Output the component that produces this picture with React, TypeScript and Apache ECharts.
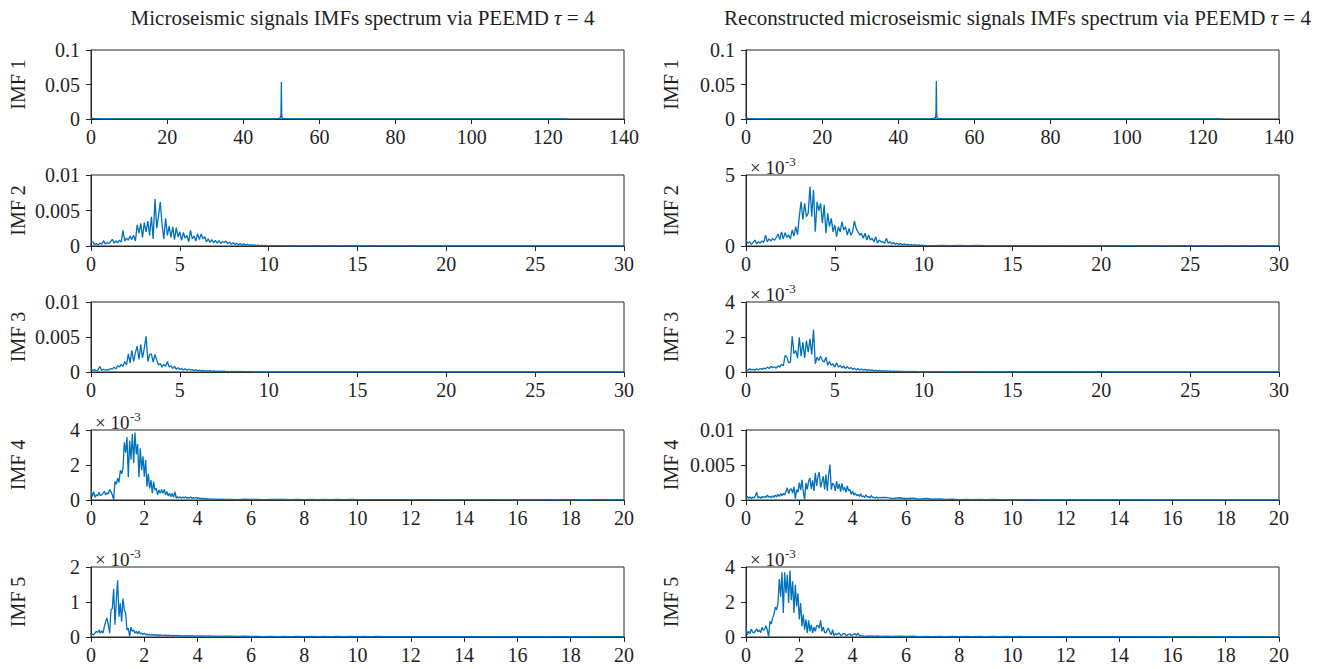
import React, { useEffect, useRef } from "react";
import * as echarts from "echarts";

// Amplitudes are stored in micro-units (1e-6) and scaled when the series are built.
const UNIT = 1e-6;

// IMF 1: near-flat spectrum with the 50 Hz line, sampled up to 125 Hz.
const imf1Freq = [
  0, 0.5, 1, 2, 4, 8, 12, 16, 20, 25, 30, 35, 40, 44, 47, 48.5, 49.3, 49.6, 49.8, 49.9,
  50, 50.1, 50.2, 50.4, 50.7, 51.5, 53, 56, 60, 65, 70, 75, 80, 85, 90, 95, 100, 105, 110, 115, 120, 125,
];
const imf1LeftAmp = [
  2000, 900, 500, 400, 300, 250, 200, 200, 180, 160, 150, 150, 180, 220, 300, 500, 900, 1500, 2500, 8000,
  53600, 6000, 2000, 1000, 600, 400, 250, 200, 150, 120, 100, 100, 90, 90, 80, 80, 70, 70, 60, 60, 50, 50,
];
const imf1RightAmp = [
  2200, 1000, 500, 400, 300, 250, 220, 200, 180, 160, 150, 150, 170, 220, 300, 500, 900, 1600, 2600, 8500,
  55000, 6500, 2200, 1000, 600, 400, 250, 200, 150, 120, 100, 100, 90, 90, 80, 80, 70, 70, 60, 60, 50, 50,
];

// 0-30 Hz panels: 0.1 Hz bins from 0 to 10 Hz, then 0.5 Hz bins to 30 Hz.
const STEP_30_FINE = 0.1;
const STEP_30_TAIL = 0.5;
// 0-20 Hz panels: 0.05 Hz bins from 0 to 5 Hz, then 0.25 Hz bins to 20 Hz.
const STEP_20_FINE = 0.05;
const STEP_20_TAIL = 0.25;

const imf2LeftFine = [
  500, 600, 200, 350, 150, 400, 250, 750, 300, 450,
  350, 600, 950, 400, 700, 450, 800, 550, 2200, 700,
  1100, 800, 1400, 900, 1500, 700, 3000, 1800, 3200, 1200,
  3300, 2000, 3500, 1500, 4100, 1000, 6600, 2500, 4200, 6200,
  3000, 1000, 3900, 1500, 2800, 1200, 2700, 900, 2600, 1300,
  2000, 800, 1900, 1100, 1500, 600, 2200, 1000, 1400, 700,
  1700, 900, 1700, 1000, 1300, 600, 1000, 500, 900, 450,
  800, 400, 750, 350, 600, 500, 700, 300, 550, 250,
  450, 200, 400, 150, 350, 150, 300, 120, 250, 100,
  200, 80, 150, 60, 120, 50, 100, 40, 80, 40,
  60,
];
const imf2LeftTail = [
  50, 30, 45, 25, 40, 30, 35, 20, 40, 25, 30, 35, 20, 30, 25, 35, 20, 30, 25, 30,
  20, 28, 22, 30, 18, 25, 20, 28, 18, 24, 20, 26, 18, 22, 20, 25, 16, 22, 18, 20,
];

const imf3LeftFine = [
  400, 200, 350, 150, 300, 800, 200, 400, 250, 350,
  300, 500, 400, 700, 450, 900, 700, 1100, 800, 1500,
  1000, 2600, 1300, 3100, 1500, 2800, 3700, 1800, 3900, 2000,
  3400, 5100, 1500, 2500, 2600, 1400, 2500, 1700, 1000, 1200,
  700, 1100, 800, 1500, 700, 900, 500, 800, 400, 600,
  350, 500, 300, 450, 250, 400, 250, 350, 200, 300,
  200, 250, 150, 220, 130, 200, 120, 180, 100, 160,
  90, 140, 80, 120, 70, 110, 60, 100, 60, 90,
  50, 80, 50, 70, 40, 70, 40, 60, 40, 55,
  35, 50, 30, 45, 30, 40, 30, 40, 25, 35,
  25,
];
const imf3LeftTail = [
  22, 30, 18, 26, 20, 24, 16, 22, 18, 20, 15, 22, 18, 20, 14, 18, 16, 20, 14, 18,
  15, 17, 13, 18, 14, 16, 12, 17, 14, 15, 12, 16, 13, 15, 12, 14, 11, 15, 12, 13,
];

const imf4LeftFine = [
  600, 200, 480, 150, 300, 220, 450, 250, 300, 380,
  500, 300, 400, 350, 600, 450, 300, 20, 1050, 900,
  1240, 1000, 1700, 1500, 1800, 3300, 2700, 3600, 1300, 3400,
  2300, 3770, 2100, 3850, 2600, 3200, 1300, 2950, 1700, 2500,
  1330, 2300, 760, 1500, 660, 1140, 380, 1050, 570, 670,
  290, 570, 380, 600, 380, 600, 290, 480, 230, 380,
  190, 380, 150, 480, 100, 190, 120, 180, 100, 170,
  120, 190, 90, 150, 110, 170, 80, 140, 100, 160,
  90, 120, 70, 110, 60, 100, 50, 80, 60, 70,
  40, 60, 35, 55, 40, 50, 30, 45, 35, 45,
  30,
];
const imf4LeftTail = [
  40, 25, 45, 30, 40, 22, 35, 28, 38, 20, 34, 26, 32, 20, 30, 24, 30, 18, 28, 22,
  27, 18, 26, 20, 25, 16, 24, 19, 23, 16, 22, 18, 22, 15, 21, 17, 20, 14, 20, 16,
  19, 14, 18, 15, 18, 13, 17, 14, 17, 12, 16, 14, 16, 12, 15, 13, 15, 11, 14, 12,
];

const imf5LeftFine = [
  50, 80, 60, 110, 160, 130, 200, 110, 180, 110,
  300, 440, 540, 350, 110, 770, 820, 1380, 350, 1050,
  1620, 580, 960, 440, 1100, 770, 680, 200, 250, 20,
  280, 160, 200, 110, 160, 90, 160, 90, 110, 70,
  110, 60, 90, 50, 80, 50, 75, 45, 70, 40,
  65, 40, 60, 35, 58, 38, 55, 32, 52, 35,
  50, 30, 48, 32, 45, 28, 44, 30, 42, 26,
  40, 28, 40, 25, 38, 26, 36, 24, 35, 25,
  34, 22, 33, 24, 32, 22, 30, 21, 30, 22,
  29, 20, 28, 21, 27, 19, 26, 20, 25, 18,
  25,
];
const imf5LeftTail = [
  25, 15, 22, 14, 20, 13, 19, 12, 18, 12, 17, 11, 16, 11, 16, 10, 15, 10, 15, 9,
  14, 10, 14, 9, 13, 9, 13, 8, 12, 9, 12, 8, 12, 8, 11, 8, 11, 7, 11, 8,
  10, 7, 10, 7, 10, 7, 9, 6, 9, 7, 9, 6, 8, 6, 8, 6, 8, 5, 8, 6,
];

const imf2RightFine = [
  420, 200, 300, 120, 250, 420, 150, 300, 200, 350,
  250, 770, 300, 500, 350, 540, 400, 600, 850, 450,
  1000, 500, 940, 600, 780, 500, 1130, 700, 1360, 800,
  2070, 3120, 1850, 3000, 2070, 2300, 4180, 2070, 3940, 1000,
  3100, 2500, 3000, 1600, 2900, 900, 2300, 1360, 1950, 1000,
  1480, 660, 1360, 1000, 1710, 1130, 1360, 770, 1240, 770,
  1000, 1760, 1240, 1000, 770, 900, 540, 900, 420, 770,
  420, 540, 300, 660, 200, 420, 300, 300, 200, 540,
  200, 300, 150, 250, 120, 200, 100, 170, 90, 150,
  80, 120, 60, 100, 50, 90, 45, 70, 40, 60,
  35,
];
const imf2RightTail = [
  30, 45, 25, 38, 22, 35, 20, 30, 24, 32, 18, 28, 22, 26, 18, 25, 20, 24, 16, 22,
  18, 23, 15, 20, 17, 22, 15, 19, 16, 20, 14, 18, 15, 19, 13, 17, 14, 18, 12, 16,
];

const imf3RightFine = [
  150, 100, 180, 120, 150, 100, 180, 130, 200, 150,
  220, 180, 280, 200, 320, 250, 300, 220, 350, 280,
  450, 350, 940, 850, 530, 570, 2040, 1040, 1230, 800,
  1980, 900, 1700, 800, 1800, 1130, 1890, 1000, 2420, 470,
  850, 650, 900, 650, 570, 850, 380, 600, 380, 470,
  280, 530, 280, 380, 230, 340, 190, 320, 190, 260,
  150, 220, 120, 200, 110, 170, 100, 150, 90, 140,
  80, 120, 60, 100, 60, 90, 50, 80, 50, 70,
  40, 60, 35, 55, 30, 50, 30, 45, 25, 40,
  25, 35, 20, 30, 20, 30, 20, 25, 15, 25,
  15,
];
const imf3RightTail = [
  14, 20, 12, 18, 13, 17, 11, 16, 12, 15, 10, 15, 11, 14, 10, 13, 11, 14, 9, 13,
  10, 12, 9, 12, 10, 11, 8, 12, 9, 11, 8, 10, 9, 11, 8, 10, 8, 9, 7, 9,
];

const imf4RightFine = [
  300, 500, 250, 450, 200, 400, 300, 600, 1100, 300,
  450, 250, 500, 300, 550, 350, 700, 400, 550, 300,
  600, 400, 700, 450, 800, 500, 900, 600, 940, 700,
  1200, 1750, 900, 1500, 1600, 1000, 1900, 200, 1500, 1100,
  2500, 1400, 2900, 1200, 50, 2450, 1500, 2700, 3160, 1600,
  2800, 1300, 3900, 2000, 3400, 3960, 1800, 2600, 3400, 1500,
  3630, 1300, 3600, 5050, 1500, 2400, 2200, 1300, 2700, 1600,
  2300, 1200, 2360, 1400, 1800, 1100, 2000, 1300, 1500, 800,
  1270, 700, 1000, 600, 800, 500, 900, 450, 600, 350,
  750, 400, 500, 300, 650, 350, 400, 250, 450, 250,
  330,
];
const imf4RightTail = [
  380, 200, 320, 180, 260, 120, 220, 110, 150, 70, 120, 60, 100, 50, 80, 45, 70, 40, 60, 35,
  55, 35, 50, 30, 45, 30, 45, 28, 40, 26, 40, 25, 38, 24, 36, 22, 35, 22, 34, 20,
  32, 20, 30, 19, 30, 18, 28, 18, 27, 17, 26, 16, 25, 16, 24, 15, 24, 15, 22, 14,
];

const imf5RightFine = [
  570, 130, 320, 200, 460, 280, 230, 350, 460, 300,
  400, 250, 550, 380, 450, 650, 400, 20, 900, 750,
  1090, 1280, 1710, 1550, 1940, 3310, 2300, 3700, 1370, 3700,
  2500, 3560, 1940, 3800, 2100, 3180, 1370, 2990, 1750, 2500,
  1000, 1940, 610, 1280, 420, 990, 230, 950, 320, 700,
  230, 570, 320, 650, 650, 500, 950, 320, 570, 250,
  230, 420, 500, 250, 130, 420, 80, 200, 130, 180,
  230, 100, 110, 190, 190, 90, 100, 170, 170, 80,
  110, 160, 190, 90, 230, 100, 80, 60, 60, 40,
  50, 70, 40, 60, 45, 65, 40, 55, 45, 60,
  40,
];
const imf5RightTail = [
  50, 30, 45, 28, 42, 26, 40, 24, 38, 22, 36, 22, 34, 20, 32, 20, 30, 19, 30, 18,
  28, 17, 27, 16, 26, 16, 25, 15, 24, 15, 23, 14, 22, 14, 22, 13, 21, 13, 20, 12,
  20, 12, 19, 12, 18, 11, 18, 11, 17, 11, 17, 10, 16, 10, 16, 10, 15, 10, 15, 9,
];

const titleLeft = "Microseismic signals IMFs spectrum via PEEMD ";
const titleRight = "Reconstructed microseismic signals IMFs spectrum via PEEMD ";
const imfNames = ["IMF 1", "IMF 2", "IMF 3", "IMF 4", "IMF 5"];

// Layout (px)
const COL_LEFT = [91, 746];
const PLOT_W = 533;
const ROWS: [number, number][] = [
  [50, 69],
  [175, 71],
  [302, 70],
  [430, 70],
  [567, 70],
];

const LINE_COLOR = "#0072BD";
const AXIS_COLOR = "#262626";
const TEXT_COLOR = "#1f1f1f";
const FONT = "'Liberation Serif', 'Times New Roman', serif";

function pairs(freq: number[], amp: number[]) {
  return freq.map((f, i) => [f, amp[i] * UNIT]);
}

function spectrum(fine: number[], fineStep: number, tail: number[], tailStep: number) {
  const out: number[][] = fine.map((v, i) => [+(i * fineStep).toFixed(4), v * UNIT]);
  const start = (fine.length - 1) * fineStep;
  tail.forEach((v, j) => out.push([+(start + (j + 1) * tailStep).toFixed(4), v * UNIT]));
  return out;
}

type Panel = {
  col: number;
  row: number;
  data: number[][];
  xMax: number;
  xStep: number;
  yMax: number;
  yStep: number;
  milli: boolean;
};

const panels: Panel[] = [
  { col: 0, row: 0, data: pairs(imf1Freq, imf1LeftAmp), xMax: 140, xStep: 20, yMax: 0.1, yStep: 0.05, milli: false },
  { col: 0, row: 1, data: spectrum(imf2LeftFine, STEP_30_FINE, imf2LeftTail, STEP_30_TAIL), xMax: 30, xStep: 5, yMax: 0.01, yStep: 0.005, milli: false },
  { col: 0, row: 2, data: spectrum(imf3LeftFine, STEP_30_FINE, imf3LeftTail, STEP_30_TAIL), xMax: 30, xStep: 5, yMax: 0.01, yStep: 0.005, milli: false },
  { col: 0, row: 3, data: spectrum(imf4LeftFine, STEP_20_FINE, imf4LeftTail, STEP_20_TAIL), xMax: 20, xStep: 2, yMax: 0.004, yStep: 0.002, milli: true },
  { col: 0, row: 4, data: spectrum(imf5LeftFine, STEP_20_FINE, imf5LeftTail, STEP_20_TAIL), xMax: 20, xStep: 2, yMax: 0.002, yStep: 0.001, milli: true },
  { col: 1, row: 0, data: pairs(imf1Freq, imf1RightAmp), xMax: 140, xStep: 20, yMax: 0.1, yStep: 0.05, milli: false },
  { col: 1, row: 1, data: spectrum(imf2RightFine, STEP_30_FINE, imf2RightTail, STEP_30_TAIL), xMax: 30, xStep: 5, yMax: 0.005, yStep: 0.005, milli: true },
  { col: 1, row: 2, data: spectrum(imf3RightFine, STEP_30_FINE, imf3RightTail, STEP_30_TAIL), xMax: 30, xStep: 5, yMax: 0.004, yStep: 0.002, milli: true },
  { col: 1, row: 3, data: spectrum(imf4RightFine, STEP_20_FINE, imf4RightTail, STEP_20_TAIL), xMax: 20, xStep: 2, yMax: 0.01, yStep: 0.005, milli: false },
  { col: 1, row: 4, data: spectrum(imf5RightFine, STEP_20_FINE, imf5RightTail, STEP_20_TAIL), xMax: 20, xStep: 2, yMax: 0.004, yStep: 0.002, milli: true },
];

function buildOption(): echarts.EChartsCoreOption {
  const tickLabel = { fontSize: 20, fontFamily: FONT, color: TEXT_COLOR };
  const axisLineStyle = { color: AXIS_COLOR, width: 1 };

  const grid = panels.map((p) => ({
    left: COL_LEFT[p.col],
    top: ROWS[p.row][0],
    width: PLOT_W,
    height: ROWS[p.row][1],
    show: true,
    borderColor: AXIS_COLOR,
    borderWidth: 1,
    backgroundColor: "transparent",
    containLabel: false,
  }));

  const xAxis = panels.map((p, i) => ({
    type: "value",
    gridIndex: i,
    min: 0,
    max: p.xMax,
    interval: p.xStep,
    axisLine: { show: true, lineStyle: axisLineStyle },
    axisTick: { show: true, inside: false, length: 5, lineStyle: axisLineStyle },
    axisLabel: { ...tickLabel, margin: 8 },
    splitLine: { show: false },
  }));

  const yAxis = panels.map((p, i) => ({
    type: "value",
    gridIndex: i,
    min: 0,
    max: p.yMax,
    interval: p.yStep,
    name: imfNames[p.row],
    nameLocation: "middle",
    nameRotate: 90,
    nameGap: p.col === 0 ? 63 : 65,
    nameTextStyle: { fontSize: 20, fontFamily: FONT, color: TEXT_COLOR },
    axisLine: { show: true, lineStyle: axisLineStyle },
    axisTick: { show: true, inside: false, length: 5, lineStyle: axisLineStyle },
    axisLabel: {
      ...tickLabel,
      margin: 11,
      formatter: (v: number) =>
        p.milli ? String(Math.round(v * 1000)) : String(Number(v.toPrecision(4))),
    },
    splitLine: { show: false },
  }));

  const series = panels.map((p, i) => ({
    type: "line",
    xAxisIndex: i,
    yAxisIndex: i,
    data: p.data,
    showSymbol: false,
    symbol: "none",
    silent: true,
    clip: true,
    color: LINE_COLOR,
    lineStyle: { color: LINE_COLOR, width: 1.3 },
    z: 3,
  }));

  // "× 10^-3" exponent markers above the scaled panels
  const graphic: any[] = [];
  panels
    .filter((p) => p.milli)
    .forEach((p) => {
      const x = COL_LEFT[p.col] + 4;
      const y = ROWS[p.row][0];
      graphic.push({
        type: "text",
        x,
        y: y + 2,
        silent: true,
        style: {
          text: "× 10",
          fontSize: 19,
          fontFamily: FONT,
          fill: TEXT_COLOR,
          align: "left",
          verticalAlign: "bottom",
        },
      });
      graphic.push({
        type: "text",
        x: x + 35,
        y: y - 7,
        silent: true,
        style: {
          text: "-3",
          fontSize: 13,
          fontFamily: FONT,
          fill: TEXT_COLOR,
          align: "left",
          verticalAlign: "bottom",
        },
      });
    });

  const titleStyle = {
    fontSize: 21,
    fontFamily: FONT,
    fontWeight: "normal",
    color: TEXT_COLOR,
    rich: {
      n: { fontSize: 21, fontFamily: FONT, color: TEXT_COLOR },
      i: { fontSize: 21, fontFamily: FONT, color: TEXT_COLOR, fontStyle: "italic" },
    },
  };

  return {
    animation: false,
    backgroundColor: "#ffffff",
    title: [
      {
        text: `{n|${titleLeft}}{i|τ}{n| = 4}`,
        left: COL_LEFT[0] + PLOT_W / 2,
        top: 2,
        textAlign: "center",
        textStyle: titleStyle,
      },
      {
        text: `{n|${titleRight}}{i|τ}{n| = 4}`,
        left: COL_LEFT[1] + PLOT_W / 2,
        top: 2,
        textAlign: "center",
        textStyle: titleStyle,
      },
    ],
    grid,
    xAxis,
    yAxis,
    series,
    graphic,
  };
}

export default function App() {
  const ref = useRef<HTMLDivElement>(null);

  useEffect(() => {
    if (!ref.current) return;
    const chart = echarts.init(ref.current, undefined, { renderer: "svg" });
    chart.setOption(buildOption());
    return () => chart.dispose();
  }, []);

  return (
    <div
      ref={ref}
      style={{ position: "absolute", left: 0, top: 0, width: 1335, height: 669, background: "#fff" }}
    />
  );
}
